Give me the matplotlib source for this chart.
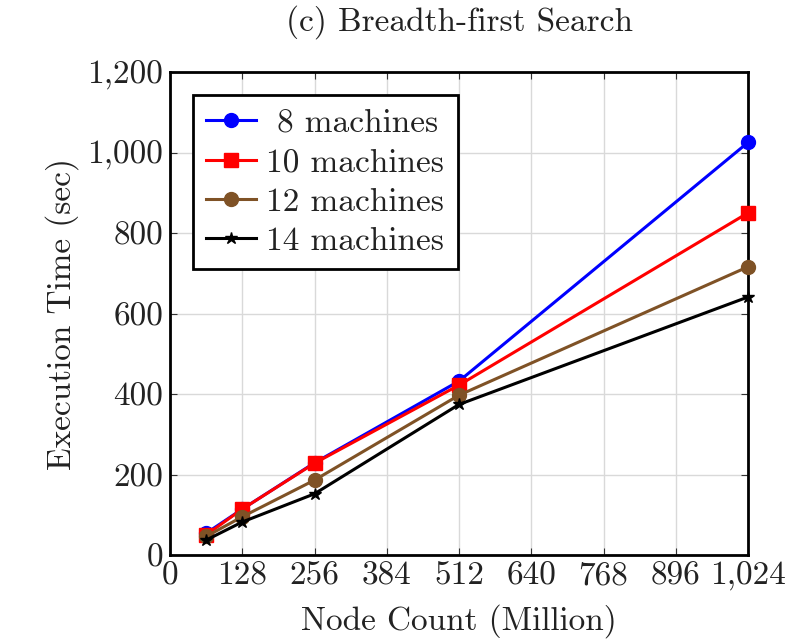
import matplotlib
matplotlib.use("Agg")
import matplotlib.pyplot as plt
from matplotlib.ticker import FuncFormatter

node_counts = [64, 128, 256, 512, 1024]
m8 = [54, 114, 229, 432, 1025]
m10 = [50, 114, 228, 422, 850]
m12 = [46, 95, 186, 397, 716]
m14 = [37, 82, 152, 374, 641]
labels = [" 8 machines", "10 machines", "12 machines", "14 machines"]
xticks = [0, 128, 256, 384, 512, 640, 768, 896, 1024]
yticks = [0, 200, 400, 600, 800, 1000, 1200]

plt.rcParams['font.family'] = ['cmr10', 'DejaVu Serif']
plt.rcParams['axes.formatter.use_mathtext'] = True
plt.rcParams['mathtext.fontset'] = 'cm'

FS = 24
fig = plt.figure(figsize=(8.01, 6.44), dpi=100)
ax = fig.add_axes([170/801, 1-555/644, (748-170)/801, (555-72)/644])

styles = [
    dict(color='#0000ff', marker='o', markersize=10),
    dict(color='#ff0000', marker='s', markersize=10),
    dict(color='#7f5226', marker='o', markersize=10),
    dict(color='#000000', marker='*', markersize=9),
]
for ys, lab, st in zip([m8, m10, m12, m14], labels, styles):
    ax.plot(node_counts, ys, label=lab, linewidth=2.2, clip_on=False, zorder=3, **st)

ax.set_xlim(0, 1024)
ax.set_ylim(0, 1200)
ax.set_xticks(xticks)
ax.set_yticks(yticks)
fmt = FuncFormatter(lambda v, p: f"{v:,.0f}")
ax.xaxis.set_major_formatter(fmt)
ax.yaxis.set_major_formatter(fmt)
ax.grid(True, color='#d9d9d9', linewidth=1.0, zorder=0)
ax.tick_params(direction='in', top=True, right=True, length=5, width=0.8,
               labelsize=FS, pad=5, colors='#333333', labelcolor='#222222')
for s in ax.spines.values():
    s.set_linewidth(2.0)
    s.set_color('black')

ax.set_xlabel("Node Count (Million)", fontsize=FS, color='#222222', labelpad=9)
ax.set_ylabel("Execution Time (sec)", fontsize=FS, color='#222222', labelpad=6)
ax.set_title("(c) Breadth-first Search", fontsize=FS, color='#222222', pad=30)

leg = ax.legend(loc='upper left', bbox_to_anchor=(0.040, 0.952), fontsize=FS,
                frameon=True, fancybox=False, framealpha=1, edgecolor='black',
                handlelength=1.5, handletextpad=0.3, borderpad=0.4,
                labelspacing=0.3, borderaxespad=0)
leg.get_frame().set_linewidth(2.0)
for t in leg.get_texts():
    t.set_color('#222222')

fig.savefig("out.png", dpi=100)
